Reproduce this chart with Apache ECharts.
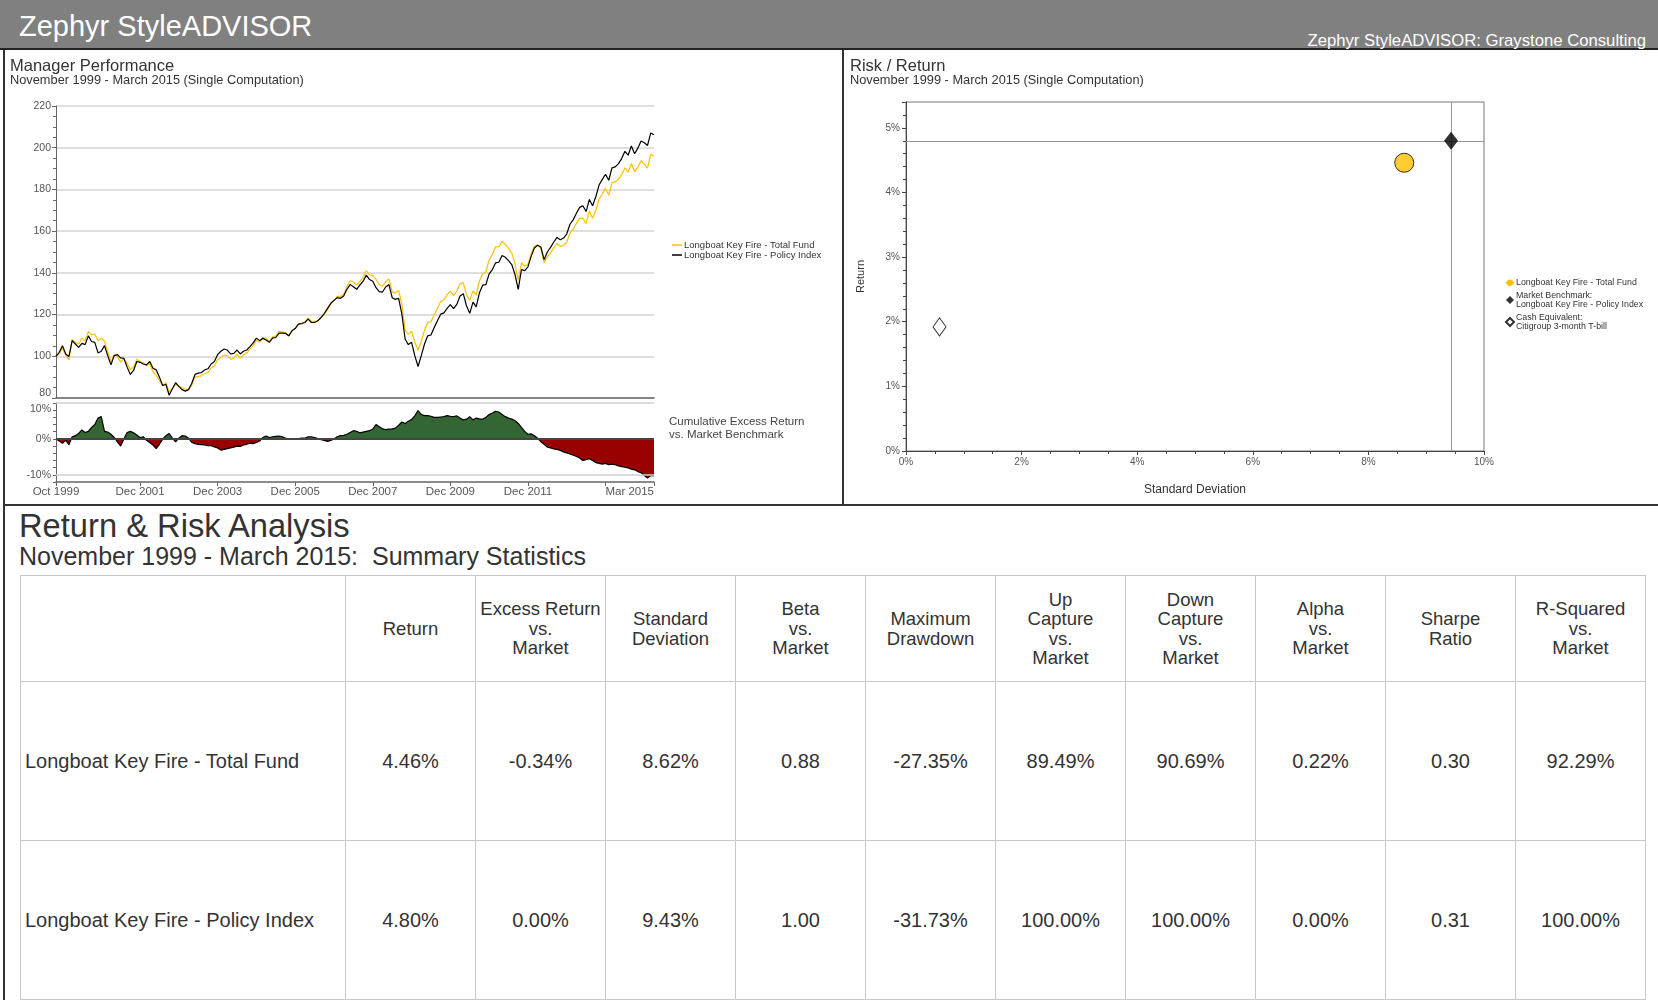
<!DOCTYPE html>
<html>
<head>
<meta charset="utf-8">
<title>Zephyr StyleADVISOR</title>
<script src="https://cdn.jsdelivr.net/npm/echarts@6/dist/echarts.min.js"></script>
<style>
  body { margin:0; background:#fff; font-family:"Liberation Sans", Arial, sans-serif; color:#333; }
  #page { position:relative; width:1658px; height:1000px; overflow:hidden; }
  #head { position:absolute; left:0; top:0; width:1658px; height:48px; background:#808080; border-bottom:2px solid #222; }
  #head .t1 { position:absolute; left:19px; top:12px; font-size:29px; color:#fff; line-height:1; }
  #head .t2 { position:absolute; right:12px; top:33px; font-size:16.7px; color:#fff; line-height:1; }
  .line { position:absolute; background:#333; }
  .txt { position:absolute; white-space:nowrap; line-height:1; color:#333; z-index:2; }
  #top { position:absolute; left:0; top:50px; width:1658px; height:455px; }
  #stats { position:absolute; left:20px; top:575px; width:1625px; border-collapse:collapse; table-layout:fixed; }
  #stats td { border:1px solid #c8c8c8; text-align:center; vertical-align:middle; color:#333; }
  #stats tr.hd td { height:103px; font-size:18.5px; line-height:19.5px; }
  #stats tr.rw td { height:156px; font-size:20px; }
  #stats td.nm { text-align:left; padding-left:4px; }
</style>
</head>
<body>
<div id="page">
  <div id="head">
    <div class="t1">Zephyr StyleADVISOR</div>
    <div class="t2">Zephyr StyleADVISOR: Graystone Consulting</div>
  </div>
  <div class="line" style="left:3px;top:50px;width:2px;height:950px;"></div>
  <div class="line" style="left:842px;top:50px;width:2px;height:455px;"></div>
  <div class="line" style="left:3px;top:504px;width:1655px;height:2px;"></div>

  <div class="txt" style="left:10px;top:57px;font-size:16.5px;">Manager Performance</div>
  <div class="txt" style="left:10px;top:74px;font-size:12.8px;">November 1999 - March 2015 (Single Computation)</div>
  <div class="txt" style="left:850px;top:57px;font-size:16.5px;">Risk / Return</div>
  <div class="txt" style="left:850px;top:74px;font-size:12.8px;">November 1999 - March 2015 (Single Computation)</div>

  <div id="top"></div>

  <div class="txt" style="left:19px;top:510px;font-size:32.7px;">Return &amp; Risk Analysis</div>
  <div class="txt" style="left:19px;top:544px;font-size:25px;">November 1999 - March 2015:&nbsp; Summary Statistics</div>
  <table id="stats"></table>
</div>
<script>
// ---- data ----
var tickLabels = ['Oct 1999','Dec 2001','Dec 2003','Dec 2005','Dec 2007','Dec 2009','Dec 2011','Mar 2015'];
var tickMonths = tickLabels.concat(['Dec 2013']);

// cumulative growth of 100, month end Oct 1999 .. Mar 2015
var totalFund = [
  100.0,101.3,103.9,100.7,98.3,108.1,106.8,105.8,108.7,107.4,111.9,110.3,
  110.7,107.4,108.6,107.2,102.2,97.2,100.7,100.0,97.2,99.0,96.6,93.4,
  94.9,98.6,97.5,96.9,95.5,96.5,92.6,90.8,88.5,85.9,87.4,82.8,
  84.6,86.5,85.8,84.9,84.1,84.2,86.1,90.0,90.4,90.6,91.8,92.1,
  94.4,95.3,98.3,99.3,100.6,100.3,98.6,99.1,101.0,99.0,100.7,101.5,
  103.4,105.1,107.7,106.9,109.0,108.6,107.1,109.3,109.7,111.9,111.7,111.2,
  109.7,112.3,113.4,115.5,115.9,116.4,118.4,116.8,116.6,117.1,118.4,120.1,
  122.3,125.0,126.8,128.7,128.7,129.9,133.4,136.2,135.6,134.2,135.8,137.9,
  141.0,139.1,138.7,136.9,134.4,133.6,135.8,137.1,130.9,130.3,131.6,124.9,
  112.6,110.5,112.1,106.7,103.0,107.1,112.4,116.3,116.5,119.8,123.0,126.3,
  127.0,129.5,131.1,129.1,131.3,134.7,135.3,129.6,126.8,131.3,129.5,136.1,
  139.6,140.4,146.3,148.8,152.5,152.6,155.1,153.7,151.7,149.5,144.3,136.4,
  144.8,143.2,144.2,149.3,152.8,153.4,151.6,144.8,147.7,149.7,152.0,154.1,
  152.7,153.1,154.7,159.1,160.9,163.7,166.1,166.2,163.6,169.7,166.2,169.9,
  175.3,177.8,180.5,177.2,183.3,183.6,184.9,187.1,190.4,188.3,192.4,188.5,
  190.7,193.8,192.2,190.2,196.9,196.0
];
var policyIndex = [
  100.0,101.9,105.1,101.1,99.9,107.5,105.9,104.3,106.2,105.6,109.8,107.1,
  106.7,101.6,102.4,105.1,100.3,95.9,100.3,100.8,99.2,99.0,94.8,91.3,
  93.2,97.5,97.1,96.3,95.9,97.5,94.3,93.5,90.0,86.0,86.5,81.3,
  84.4,87.3,85.6,84.0,83.3,84.0,87.1,91.3,91.9,92.2,93.5,94.0,
  96.3,97.5,100.8,102.4,103.5,103.0,101.1,101.4,103.0,101.1,102.4,103.0,
  104.6,106.4,108.7,107.5,108.6,107.8,106.7,108.7,109.0,111.1,111.1,111.0,
  109.8,112.2,113.3,115.4,115.7,116.2,117.8,116.2,116.2,117.0,118.6,120.5,
  123.0,125.4,126.8,128.1,127.8,128.9,132.1,134.4,133.3,132.1,134.1,136.0,
  138.9,136.8,136.0,132.9,131.0,130.8,133.2,134.4,128.1,127.3,127.8,120.2,
  108.3,105.6,106.7,100.3,95.1,100.3,105.9,109.8,110.2,113.8,117.0,120.2,
  120.8,123.0,124.8,122.9,124.9,128.9,130.0,124.1,120.6,126.0,123.7,130.5,
  134.1,134.4,139.5,141.6,144.8,145.1,148.3,147.5,145.9,144.0,139.2,132.1,
  141.6,141.1,142.9,147.9,151.9,153.2,152.4,146.3,150.0,152.2,154.8,157.0,
  155.9,156.7,158.6,163.3,165.4,168.6,171.4,172.2,169.4,175.2,172.2,176.5,
  182.1,184.8,187.3,184.4,190.3,190.8,192.4,194.8,198.3,196.4,200.8,197.1,
  199.8,203.2,202.4,201.1,207.1,206.2
];
// cumulative excess return vs market (%)
var excessReturn = [
  0,-0.6,-1.2,-0.4,-1.6,0.6,0.9,1.5,2.5,1.8,2.1,3.2,
  4.0,5.8,6.2,2.1,1.9,1.3,0.4,-0.8,-2.0,0,1.8,2.1,
  1.7,1.1,0.4,0.6,-0.4,-1.0,-1.7,-2.7,-1.5,-0.1,0.9,1.5,
  0.2,-0.8,0.2,0.9,0.8,0.2,-1.0,-1.3,-1.5,-1.6,-1.7,-1.9,
  -1.9,-2.2,-2.5,-3.1,-2.9,-2.7,-2.5,-2.3,-2.0,-2.1,-1.7,-1.5,
  -1.2,-1.3,-1.0,-0.6,0.4,0.8,0.4,0.6,0.7,0.8,0.6,0.2,
  -0.1,0.1,0.1,0.1,0.2,0.2,0.6,0.6,0.4,0.1,-0.2,-0.4,
  -0.7,-0.4,0,0.6,0.9,1.0,1.3,1.8,2.3,2.1,1.7,1.9,
  2.1,2.3,2.7,4.0,3.4,2.8,2.6,2.7,2.8,3.0,3.8,4.7,
  4.3,4.9,5.4,6.4,7.9,6.8,6.5,6.5,6.3,6.0,6.0,6.1,
  6.2,6.5,6.3,6.2,6.4,5.8,5.3,5.5,6.2,5.3,5.8,5.6,
  5.5,6.0,6.8,7.2,7.7,7.5,6.8,6.2,5.8,5.5,5.1,4.3,
  3.2,2.1,1.3,1.4,0.9,0.2,-0.8,-1.5,-2.3,-2.5,-2.8,-2.9,
  -3.2,-3.6,-3.9,-4.2,-4.5,-4.9,-5.3,-6.0,-5.8,-5.5,-6.0,-6.6,
  -6.8,-7.0,-6.8,-7.2,-7.0,-7.2,-7.5,-7.7,-7.9,-8.1,-8.4,-8.6,
  -9.1,-9.4,-10.2,-10.9,-10.2,-10.2
];

// risk / return points
var riskNames = ['Longboat Key Fire - Total Fund',
                 'Market Benchmark:\nLongboat Key Fire - Policy Index',
                 'Cash Equivalent:\nCitigroup 3-month T-bill'];
var riskStdDev = [8.62, 9.43, 0.58];
var riskReturn = [4.46, 4.80, 1.92];

// summary table
var statHeaders = ['Return','Excess Return<br>vs.<br>Market','Standard<br>Deviation','Beta<br>vs.<br>Market',
  'Maximum<br>Drawdown','Up<br>Capture<br>vs.<br>Market','Down<br>Capture<br>vs.<br>Market',
  'Alpha<br>vs.<br>Market','Sharpe<br>Ratio','R-Squared<br>vs.<br>Market'];
var rowNames = ['Longboat Key Fire - Total Fund','Longboat Key Fire - Policy Index'];
var fundStats = ['4.46%','-0.34%','8.62%','0.88','-27.35%','89.49%','90.69%','0.22%','0.30','92.29%'];
var policyStats = ['4.80%','0.00%','9.43%','1.00','-31.73%','100.00%','100.00%','0.00%','0.31','100.00%'];

// month categories
var monNames = ['Jan','Feb','Mar','Apr','May','Jun','Jul','Aug','Sep','Oct','Nov','Dec'];
var months = [];
for (var i = 0; i < policyIndex.length; i++) {
  var m = 9 + i;
  months.push(monNames[m % 12] + ' ' + (1999 + Math.floor(m / 12)));
}

// ---- table ----
var html = '<colgroup><col style="width:325px">';
statHeaders.forEach(function(){ html += '<col style="width:130px">'; });
html += '</colgroup><tr class="hd"><td></td>';
statHeaders.forEach(function(h){ html += '<td>' + h + '</td>'; });
html += '</tr>';
[fundStats, policyStats].forEach(function(r, k){
  html += '<tr class="rw"><td class="nm">' + rowNames[k] + '</td>';
  r.forEach(function(v){ html += '<td>' + v + '</td>'; });
  html += '</tr>';
});
document.getElementById('stats').innerHTML = html;

// ---- charts ----
var myChart = echarts.init(document.getElementById('top'));
var gray = '#666', lbl = '#555';
var font = '"Liberation Sans", Arial, sans-serif';

var option = {
  animation: false,
  textStyle: { fontFamily: font },
  legend: [
    { left: 667, top: 185, orient: 'vertical', itemGap: 0, itemWidth: 10, itemHeight: 1.5, icon: 'rect',
      data: ['Longboat Key Fire - Total Fund', 'Longboat Key Fire - Policy Index'],
      textStyle: { fontSize: 9.5, color: '#333', padding: [0, 0, 0, -3] } },
    { left: 1500, top: 223, orient: 'vertical', itemGap: 3, itemWidth: 8, itemHeight: 8,
      data: riskNames, textStyle: { fontSize: 8.8, color: '#333', lineHeight: 9.5, padding: [0, 0, 0, -3] } }
  ],
  visualMap: { type: 'piecewise', show: false, seriesIndex: 2, dimension: 1,
    pieces: [{ gte: -100, lt: 0, color: '#990000' }, { gte: 0, lte: 100, color: '#336633' }] },
  graphic: [
    { type: 'text', left: 669, top: 365,
      style: { text: 'Cumulative Excess Return\nvs. Market Benchmark', fontSize: 11.5, fill: '#444',
               lineHeight: 13, fontFamily: font } }
  ],
  grid: [
    { left: 56, top: 56, width: 598, height: 292 },
    { left: 56, top: 353, width: 598, height: 79 },
    { left: 906, top: 52, width: 578, height: 349, show: true, borderColor: '#777', borderWidth: 1 }
  ],
  xAxis: [
    { type: 'category', gridIndex: 0, data: months, boundaryGap: false,
      axisLine: { onZero: false, lineStyle: { color: gray, width: 1.5 } }, axisTick: { show: false }, axisLabel: { show: false } },
    { type: 'category', gridIndex: 1, data: months, boundaryGap: false,
      axisLine: { onZero: false, lineStyle: { color: gray, width: 1.5 } },
      axisTick: { interval: function(i){ return tickMonths.indexOf(months[i]) >= 0; }, length: 4, lineStyle: { color: gray } },
      axisLabel: { interval: function(i){ return tickLabels.indexOf(months[i]) >= 0; },
                   fontSize: 11.5, color: lbl, margin: 4, alignMaxLabel: 'right' } },
    { type: 'value', gridIndex: 2, min: 0, max: 10, interval: 2,
      axisLine: { onZero: false, lineStyle: { color: '#444' } },
      axisTick: { length: 4, lineStyle: { color: '#444' } },
      minorTick: { show: true, splitNumber: 4, length: 3, lineStyle: { color: '#444' } },
      splitLine: { show: false },
      axisLabel: { formatter: '{value}%', fontSize: 10, color: lbl, margin: 6 },
      name: 'Standard Deviation', nameLocation: 'middle', nameGap: 33,
      nameTextStyle: { fontSize: 12, color: '#333' } }
  ],
  yAxis: [
    { type: 'value', gridIndex: 0, min: 80, max: 220, interval: 20,
      axisLine: { show: true, lineStyle: { color: gray } },
      axisTick: { show: true, length: 4, lineStyle: { color: gray } },
      minorTick: { show: true, splitNumber: 4, length: 3, lineStyle: { color: gray } },
      splitLine: { lineStyle: { color: '#d4d4d4', width: 1.6 } },
      axisLabel: { fontSize: 10.5, color: lbl, margin: 5,
                   formatter: function(v){ return v === 80 ? '{b|80}' : String(v); },
                   rich: { b: { fontSize: 10.5, color: lbl, padding: [0, 0, 10, 0] } } } },
    { type: 'value', gridIndex: 1, min: -12, max: 10, interval: 2,
      axisLine: { show: true, lineStyle: { color: gray } },
      axisTick: { show: true, length: 3, lineStyle: { color: gray } },
      splitLine: { show: false },
      axisLabel: { fontSize: 10.5, color: lbl, margin: 5,
                   formatter: function(v){
                     if (v === 10) return '{t|10%}';
                     return v % 10 === 0 ? v + '%' : '';
                   },
                   rich: { t: { fontSize: 10.5, color: lbl, padding: [12, 0, 0, 0] } } } },
    { type: 'value', gridIndex: 2, min: 0, max: 5.4, interval: 1,
      axisLine: { show: true, onZero: false, lineStyle: { color: '#444' } },
      axisTick: { length: 4, lineStyle: { color: '#444' } },
      minorTick: { show: true, splitNumber: 5, length: 3, lineStyle: { color: '#444' } },
      splitLine: { show: false },
      axisLabel: { fontSize: 10, color: lbl, margin: 6,
                   formatter: function(v){ return Math.abs(v - Math.round(v)) < 1e-9 ? v + '%' : ''; } },
      name: 'Return', nameLocation: 'middle', nameGap: 40, nameRotate: 90,
      nameTextStyle: { fontSize: 11, color: '#333' } }
  ],
  series: [
    { name: 'Longboat Key Fire - Total Fund', type: 'line', xAxisIndex: 0, yAxisIndex: 0,
      data: totalFund, symbol: 'none', color: '#FFC000', lineStyle: { width: 1.2 }, z: 3 },
    { name: 'Longboat Key Fire - Policy Index', type: 'line', xAxisIndex: 0, yAxisIndex: 0,
      data: policyIndex, symbol: 'none', color: '#000', lineStyle: { width: 1.2 }, z: 4 },
    { name: 'Excess Area', type: 'line', xAxisIndex: 1, yAxisIndex: 1, data: excessReturn,
      symbol: 'none', lineStyle: { width: 0 }, areaStyle: { opacity: 1 }, z: 2 },
    { name: 'Cumulative Excess Return', type: 'line', xAxisIndex: 1, yAxisIndex: 1, data: excessReturn,
      symbol: 'none', color: '#000', lineStyle: { width: 1.2 }, z: 3,
      markLine: { silent: true, symbol: 'none', label: { show: false }, animation: false,
        data: [
          { yAxis: 10, lineStyle: { color: '#cfcfcf', width: 1.5, type: 'solid' } },
          { yAxis: -10, lineStyle: { color: '#cfcfcf', width: 1.5, type: 'solid' } },
          { yAxis: 0, lineStyle: { color: '#444', width: 2, type: 'solid' } }
        ] } },
    { name: riskNames[0], type: 'scatter', xAxisIndex: 2, yAxisIndex: 2,
      data: [[riskStdDev[0], riskReturn[0]]], symbol: 'circle', symbolSize: 19, z: 5,
      itemStyle: { color: '#FFC000', borderColor: '#000', borderWidth: 1 } },
    { name: riskNames[1], type: 'scatter', xAxisIndex: 2, yAxisIndex: 2,
      data: [[riskStdDev[1], riskReturn[1]]], symbol: 'diamond', symbolSize: [14, 18], z: 5,
      itemStyle: { color: '#000' },
      markLine: { silent: true, symbol: 'none', label: { show: false },
        lineStyle: { color: '#999', width: 1, type: 'solid' },
        data: [{ yAxis: riskReturn[1] }, { xAxis: riskStdDev[1] }] } },
    { name: riskNames[2], type: 'scatter', xAxisIndex: 2, yAxisIndex: 2,
      data: [[riskStdDev[2], riskReturn[2]]], symbol: 'diamond', symbolSize: [13, 18], z: 5,
      itemStyle: { color: '#fff', borderColor: '#000', borderWidth: 1 } }
  ]
};
myChart.setOption(option);
</script>
</body>
</html>
